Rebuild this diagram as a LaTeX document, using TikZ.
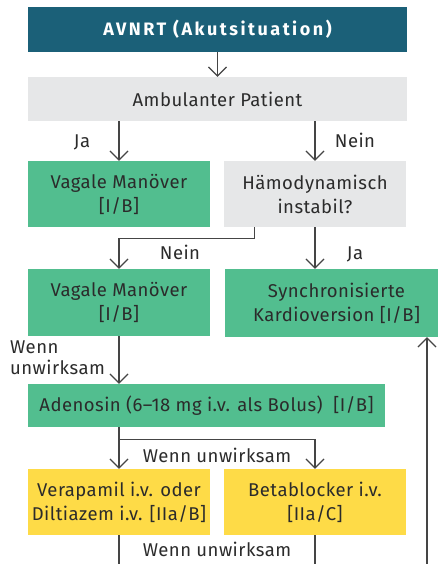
\documentclass[tikz,border=0pt]{standalone}
\usepackage{fontspec}
\setmainfont{Fira Sans}
\newfontfamily\reg[LetterSpace=2.5]{Fira Sans}
\newfontfamily\ttl[LetterSpace=14]{Fira Sans Bold}
\usetikzlibrary{arrows.meta,calc}
\definecolor{teal}{HTML}{1B6078}
\definecolor{lgray}{HTML}{E6E7E8}
\definecolor{mgreen}{HTML}{52BE8F}
\definecolor{myellow}{HTML}{FEDB47}
\definecolor{txt}{HTML}{2B2B2B}
\definecolor{ln}{HTML}{454545}
\tikzset{
  box/.style={inner sep=0pt, align=center, text=txt, font=\reg\fontsize{18.5}{24}\selectfont},
  arr/.style={draw=ln, line width=1.2pt, -{Straight Barb[length=9pt,width=18pt,line width=1.2pt]}},
  ln/.style={draw=ln, line width=1.2pt},
  lbl/.style={text=txt, font=\reg\fontsize{18.5}{21}\selectfont, inner sep=0pt, align=left}
}
\begin{document}
\begin{tikzpicture}[x=1pt,y=-1pt]
\useasboundingbox (0,0) rectangle (437,564);
\fill[white] (0,0) rectangle (437,564);
\node[box, fill=teal, text=white, minimum width=379pt, minimum height=45pt, font=\ttl\fontsize{18}{24}\selectfont] (title) at (217.5,29.5) {AVNRT (Akutsituation)};
\node[box, fill=lgray, minimum width=379pt, minimum height=44pt] (amb) at (217.5,99) {Ambulanter Patient};
\node[box, fill=mgreen, minimum width=182pt, minimum height=66pt] (vag1) at (119,194) {Vagale Manöver\\{[I/B]}};
\node[box, fill=lgray, minimum width=182pt, minimum height=66pt] (hae) at (315,194) {Hämodynamisch\\instabil?};
\node[box, fill=mgreen, minimum width=182pt, minimum height=67pt] (vag2) at (119,302.5) {Vagale Manöver\\{[I/B]}};
\node[box, fill=mgreen, minimum width=223pt, minimum height=68pt] (syn) at (336.5,303) {Synchronisierte\\Kardioversion [I/B]};
\node[box, fill=mgreen, minimum width=357pt, minimum height=43pt] (ade) at (206.5,405.5) {Adenosin (6–18 mg i.v. als Bolus)\ \ [I/B]};
\node[box, fill=myellow, minimum width=182pt, minimum height=66pt] (vera) at (119,502) {Verapamil i.v. oder\\Diltiazem i.v. [IIa/B]};
\node[box, fill=myellow, minimum width=182pt, minimum height=66pt] (beta) at (315,502) {Betablocker i.v.\\{[IIa/C]}};
% labels
\node[lbl, anchor=base] (ja1) at (82,148) {Ja};
\node[lbl, anchor=base] (nein1) at (355,148) {Nein};
\node[lbl, anchor=base] (nein2) at (180,259) {Nein};
\node[lbl, anchor=base] (ja2) at (355,259) {Ja};
\node[lbl, anchor=north west, text depth=0pt] (wu1) at (10,341) {Wenn\\unwirksam};
\node[lbl, anchor=base] (wu2) at (217,462) {Wenn unwirksam};
\node[lbl, anchor=base] (wu3) at (217,556) {Wenn unwirksam};
% connectors
\draw[arr] (title) -- (amb);
\draw[arr] (amb.south -| vag1.north) -- (vag1.north);
\draw[arr] (amb.south -| hae.north) -- (hae.north);
\coordinate (hb) at ($(hae.south west)+(31,0)$);
\draw[arr] (hb) -- ++(0,11) -| (vag2.north);
\draw[arr] (hae.south) -- (hae.south |- syn.north);
\draw[arr] (vag2) -- (vag2.south |- ade.north);
\coordinate (ab) at (ade.south -| vera.north);
\draw[arr] (ab) -- (vera.north);
\coordinate (br) at ($(ab)+(0,12)$);
\draw[arr] (br) -| (beta.north);
\coordinate (vb) at (119,570);
\coordinate (bb) at (315,570);
\draw[ln] (vera.south) -- (vb);
\draw[ln] (beta.south) -- (bb);
\coordinate (rb) at (427,570);
\draw[arr] (rb) -- (rb |- syn.south);
\end{tikzpicture}
\end{document}
